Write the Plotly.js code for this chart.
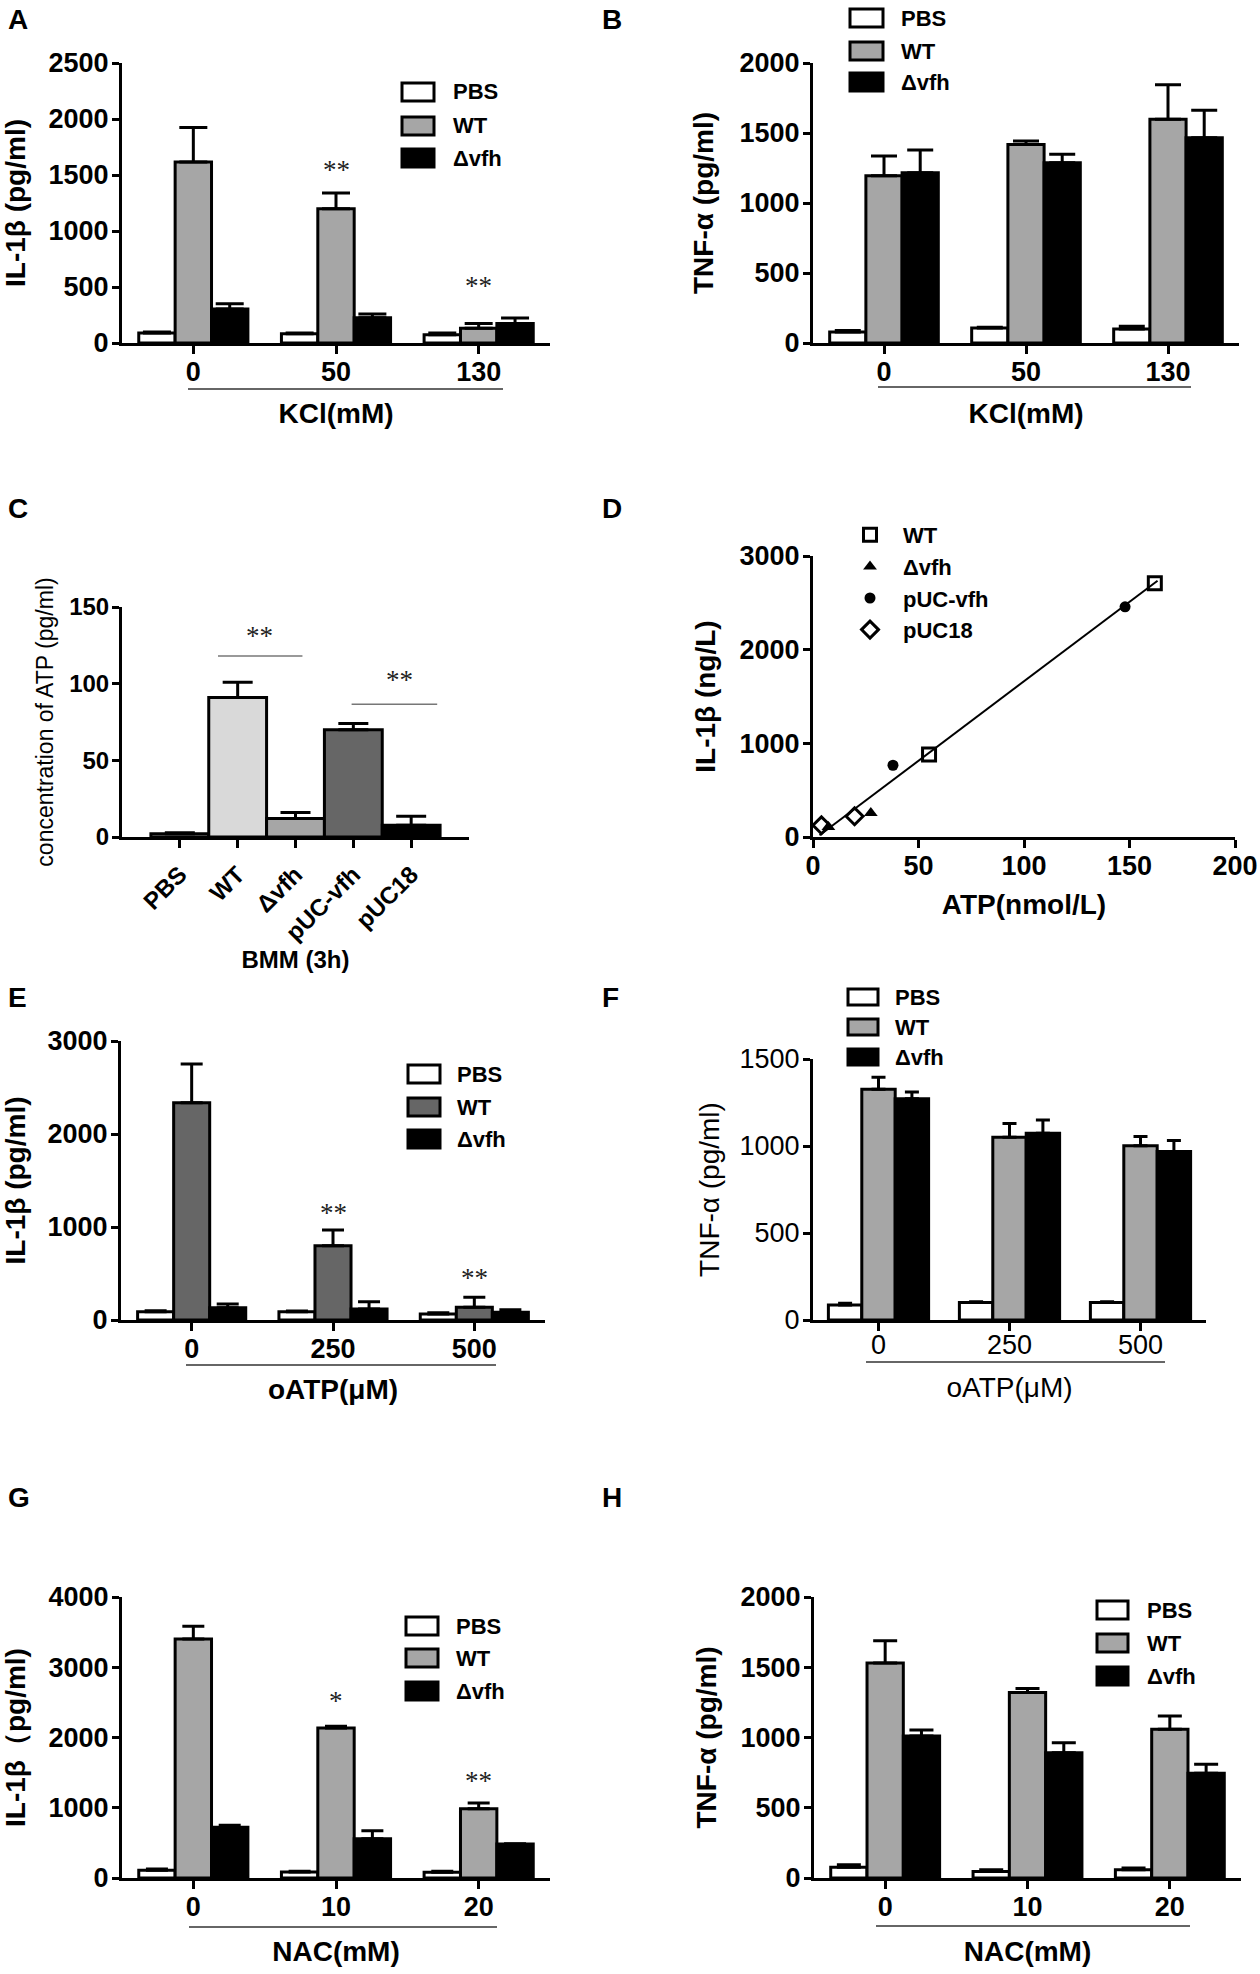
<!DOCTYPE html>
<html>
<head>
<meta charset="utf-8">
<script src="https://cdn.plot.ly/plotly-3.0.1.min.js"></script>
<style>body { margin: 0; background: #fff; }</style>
</head>
<body>
<div id="fig"></div>
<script>
// ---- data ----
const kclDoses = ["0", "50", "130"];
const oatpDoses = ["0", "250", "500"];
const nacDoses = ["0", "10", "20"];
const groupNames = ["PBS", "WT", "Δvfh"];
const strainNames = ["PBS", "WT", "Δvfh", "pUC-vfh", "pUC18"];

// A: IL-1β, KCl
const aPBS = [89, 83, 74], aPBSSem = [9, 6, 15];
const aWT = [1616, 1199, 131], aWTSem = [309, 140, 42];
const aVfh = [304, 226, 173], aVfhSem = [47, 33, 50];
// B: TNF-α, KCl
const bPBS = [78, 107, 100], bPBSSem = [12, 5, 19];
const bWT = [1195, 1418, 1598], bWTSem = [140, 24, 247];
const bVfh = [1216, 1287, 1466], bVfhSem = [162, 62, 196];
// C: ATP concentration per strain
const cATP = [2.2, 91, 12, 70, 7.6], cATPSem = [0.6, 10, 4, 4, 6];
// D: ATP vs IL-1β
const dWTx = [55, 162], dWTy = [880, 2710];
const dVfhx = [7.3, 27.4], dVfhy = [107, 257];
const dPucVfhx = [37.9, 147.9], dPucVfhy = [766, 2458];
const dPuc18x = [4, 19.7], dPuc18y = [125, 221];
const dFitX = [3.1, 163.3], dFitY = [18, 2736];
// E: IL-1β, oATP
const ePBS = [90, 90, 65], ePBSSem = [10, 7, 14];
const eWT = [2337, 799, 136], eWTSem = [416, 169, 108];
const eVfh = [133, 118, 82], eVfhSem = [39, 79, 29];
// F: TNF-α, oATP
const fPBS = [86, 100, 100], fPBSSem = [10, 5, 5];
const fWT = [1326, 1050, 1002], fWTSem = [69, 80, 52];
const fVfh = [1272, 1073, 969], fVfhSem = [38, 76, 62];
// G: IL-1β, NAC
const gPBS = [109, 85, 81], gPBSSem = [19, 10, 14];
const gWT = [3402, 2135, 987], gWTSem = [180, 24, 81];
const gVfh = [721, 560, 484], gVfhSem = [29, 114, 5];
// H: TNF-α, NAC
const hPBS = [76, 47, 59], hPBSSem = [19, 12, 12];
const hWT = [1531, 1321, 1058], hWTSem = [157, 28, 95];
const hVfh = [1011, 892, 746], hVfhSem = [42, 71, 63];

// significance marks: [panel, x, y, text]
const starMarks = [
  ["A", 1, 1547, "**"], ["A", 2, 512, "**"],
  ["C", 1.37, 131, "**"], ["C", 3.79, 102.5, "**"],
  ["E", 1, 1147, "**"], ["E", 2, 448, "**"],
  ["G", 1, 2515, "*"], ["G", 2, 1385, "**"]
];
// significance bars in panel C: [x0, x1, y]
const cSigBars = [[0.66, 2.12, 118], [2.97, 4.45, 86.6]];

// ---- layout helpers ----
const W = 1260, H = 1974;
const FONT = "Liberation Sans, Arial, Helvetica, sans-serif";
const px = x => x / W;
const py = y => 1 - y / H;

const grayBars = ["#ffffff", "#a6a6a6", "#000000"];
const darkBars = ["#ffffff", "#666666", "#000000"];

// panel frames in pixels: left, right, top, bottom
const frames = {
  A: [122, 550, 63, 343], B: [813, 1239, 63, 343],
  C: [122, 469, 607, 837], D: [813, 1235, 556, 837],
  E: [121, 545, 1041, 1320], F: [813, 1206, 1059, 1320],
  G: [122, 550, 1597, 1878], H: [814, 1241, 1597, 1878]
};
const panelOrder = ["A", "B", "C", "D", "E", "F", "G", "H"];
const axisId = p => {
  const k = panelOrder.indexOf(p) + 1;
  return k === 1 ? "" : String(k);
};

const traces = [];
const layout = {
  width: W, height: H,
  margin: {l: 0, r: 0, t: 0, b: 0},
  paper_bgcolor: "#fff", plot_bgcolor: "#fff",
  barmode: "overlay",
  font: {family: FONT, color: "#000"},
  annotations: [], shapes: [],
  legend: {
    x: px(837), xanchor: "left", y: py(514), yanchor: "top",
    font: {family: FONT, size: 22, weight: "bold"}, itemwidth: 56,
    bgcolor: "rgba(0,0,0,0)", tracegroupgap: 0
  }
};

function setAxes(p, opts) {
  const [l, r, t, b] = frames[p];
  const s = axisId(p);
  const weight = opts.bold === false ? "normal" : "bold";
  const common = {
    showline: true, linewidth: 3, linecolor: "#000",
    ticks: "outside", tickwidth: 3, tickcolor: "#000",
    showgrid: false, zeroline: false, fixedrange: true,
    tickfont: {family: FONT, size: opts.tickSize || 27, weight: weight}
  };
  layout["xaxis" + s] = Object.assign({}, common, {
    type: "category",
    domain: [px(l), px(r)], anchor: "y" + s,
    range: opts.xRange, ticklen: 8,
    ticklabelstandoff: opts.xLabelPad !== undefined ? opts.xLabelPad : -5,
    tickangle: opts.tickAngle || 0,
    title: {text: opts.xTitle, standoff: opts.xStandoff || 17,
            font: {family: FONT, size: opts.xTitleSize || 28, weight: weight}}
  }, opts.xExtra || {});
  layout["yaxis" + s] = Object.assign({}, common, {
    domain: [py(b), py(t)], anchor: "x" + s,
    range: [0, opts.yMax], dtick: opts.yStep, ticklen: 7, ticklabelstandoff: -2,
    title: {text: opts.yTitle, standoff: opts.yStandoff || 16,
            font: {family: FONT, size: opts.yTitleSize || 28,
                   weight: opts.yTitleWeight || weight}}
  });
}

function groupBars(p, cats, series, colors, capW) {
  const s = axisId(p);
  series.forEach((se, i) => {
    traces.push({
      type: "bar", x: cats, y: se.y, name: groupNames[i],
      xaxis: "x" + s, yaxis: "y" + s, showlegend: false,
      width: 0.255, offset: -0.3825 + i * 0.255,
      marker: {color: colors[i], line: {color: "#000", width: 3}},
      error_y: {type: "data", symmetric: false, array: se.sem,
                arrayminus: se.sem.map(() => 0),
                color: "#000", thickness: 3, width: capW},
      hoverinfo: "skip"
    });
  });
}

// legend swatches drawn as boxes next to each bar panel
function boxLegend(x0, x1, tx, rows, h, colors, bold) {
  rows.forEach((yc, i) => {
    layout.shapes.push({
      type: "rect", xref: "paper", yref: "paper",
      x0: px(x0), x1: px(x1), y0: py(yc + h / 2), y1: py(yc - h / 2),
      fillcolor: colors[i], line: {color: "#000", width: 3}
    });
    layout.annotations.push({
      xref: "paper", yref: "paper", x: px(tx), y: py(yc),
      xanchor: "left", yanchor: "middle", showarrow: false,
      text: groupNames[i],
      font: {family: FONT, size: 22, weight: bold ? "bold" : "normal"}
    });
  });
}

function underline(x0, x1, y) {
  layout.shapes.push({
    type: "line", xref: "paper", yref: "paper",
    x0: px(x0), x1: px(x1), y0: py(y), y1: py(y),
    line: {color: "#333", width: 1.5}
  });
}

// ---- panels ----
groupBars("A", kclDoses, [{y: aPBS, sem: aPBSSem}, {y: aWT, sem: aWTSem}, {y: aVfh, sem: aVfhSem}], grayBars, 14);
setAxes("A", {xRange: [-0.5, 2.5], yMax: 2500, yStep: 500, xTitle: "KCl(mM)", yTitle: "IL-1β (pg/ml)"});
boxLegend(402, 434, 451, [92, 126, 158], 18, grayBars, true);
underline(188, 503, 389);

groupBars("B", kclDoses, [{y: bPBS, sem: bPBSSem}, {y: bWT, sem: bWTSem}, {y: bVfh, sem: bVfhSem}], grayBars, 13);
setAxes("B", {xRange: [-0.5, 2.5], yMax: 2000, yStep: 500, xTitle: "KCl(mM)", yTitle: "TNF-α (pg/ml)", yStandoff: 18});
boxLegend(850, 883, 899, [18, 51, 82], 18, grayBars, true);
underline(878, 1191, 387);

traces.push({
  type: "bar", x: strainNames, y: cATP, xaxis: "x3", yaxis: "y3",
  showlegend: false, width: 1,
  marker: {color: ["#ffffff", "#d9d9d9", "#a6a6a6", "#666666", "#000000"],
           line: {color: "#000", width: 3}},
  error_y: {type: "data", symmetric: false, array: cATPSem,
            arrayminus: cATPSem.map(() => 0), color: "#000", thickness: 3, width: 15},
  hoverinfo: "skip"
});
setAxes("C", {xRange: [-1, 5], yMax: 150, yStep: 50, tickSize: 24, tickAngle: -45,
              xLabelPad: 3, xTitle: "BMM (3h)", xTitleSize: 24, xStandoff: 4,
              yTitle: "concentration of ATP (pg/ml)", yTitleSize: 23,
              yTitleWeight: "normal", yStandoff: 10});
cSigBars.forEach(([x0, x1, y]) => {
  layout.shapes.push({type: "line", xref: "x3", yref: "y3", x0: x0, x1: x1, y0: y, y1: y,
                      line: {color: "#777", width: 1.5}});
});

const dMarkerLine = {color: "#000", width: 3};
traces.push(
  {type: "scatter", mode: "lines", x: dFitX, y: dFitY, xaxis: "x4", yaxis: "y4",
   line: {color: "#000", width: 2}, showlegend: false, hoverinfo: "skip"},
  {type: "scatter", mode: "markers", name: "WT", x: dWTx, y: dWTy, xaxis: "x4", yaxis: "y4",
   marker: {symbol: "square-open", size: 13, color: "#000", line: dMarkerLine}, cliponaxis: false},
  {type: "scatter", mode: "markers", name: "Δvfh", x: dVfhx, y: dVfhy, xaxis: "x4", yaxis: "y4",
   marker: {symbol: "triangle-up", size: 12, color: "#000"}, cliponaxis: false},
  {type: "scatter", mode: "markers", name: "pUC-vfh", x: dPucVfhx, y: dPucVfhy, xaxis: "x4", yaxis: "y4",
   marker: {symbol: "circle", size: 11, color: "#000"}, cliponaxis: false},
  {type: "scatter", mode: "markers", name: "pUC18", x: dPuc18x, y: dPuc18y, xaxis: "x4", yaxis: "y4",
   marker: {symbol: "diamond-open", size: 13, color: "#000", line: dMarkerLine}, cliponaxis: false}
);
setAxes("D", {xRange: [0, 200], yMax: 3000, yStep: 1000, xTitle: "ATP(nmol/L)",
              yTitle: "IL-1β (ng/L)", xStandoff: 14, xExtra: {type: "linear", dtick: 50, ticklen: 8}});

groupBars("E", oatpDoses, [{y: ePBS, sem: ePBSSem}, {y: eWT, sem: eWTSem}, {y: eVfh, sem: eVfhSem}], darkBars, 11);
setAxes("E", {xRange: [-0.5, 2.5], yMax: 3000, yStep: 1000, xTitle: "oATP(μM)", yTitle: "IL-1β (pg/ml)",
              xStandoff: 16});
boxLegend(408, 440, 455, [1074, 1107, 1139], 18, darkBars, true);
underline(186, 496, 1365);

groupBars("F", oatpDoses, [{y: fPBS, sem: fPBSSem}, {y: fWT, sem: fWTSem}, {y: fVfh, sem: fVfhSem}], grayBars, 7);
setAxes("F", {xRange: [-0.5, 2.5], yMax: 1500, yStep: 500, bold: false, xTitle: "oATP(μM)",
              yTitle: "TNF-α (pg/ml)", yStandoff: 12, xLabelPad: -9, xStandoff: 18});
boxLegend(848, 878, 893, [997, 1027, 1057], 16, grayBars, true);
underline(866, 1165, 1362);

groupBars("G", nacDoses, [{y: gPBS, sem: gPBSSem}, {y: gWT, sem: gWTSem}, {y: gVfh, sem: gVfhSem}], grayBars, 11);
setAxes("G", {xRange: [-0.5, 2.5], yMax: 4000, yStep: 1000, xTitle: "NAC(mM)", yTitle: "IL-1β（pg/ml)",
              xStandoff: 21});
boxLegend(406, 438, 454, [1626, 1658, 1691], 18, grayBars, true);
underline(189, 497, 1927);

groupBars("H", nacDoses, [{y: hPBS, sem: hPBSSem}, {y: hWT, sem: hWTSem}, {y: hVfh, sem: hVfhSem}], grayBars, 12);
setAxes("H", {xRange: [-0.5, 2.5], yMax: 2000, yStep: 500, xTitle: "NAC(mM)", yTitle: "TNF-α (pg/ml)",
              xStandoff: 21});
boxLegend(1097, 1128, 1145, [1610, 1643, 1676], 18, grayBars, true);
underline(876, 1190, 1926);

// asterisks
starMarks.forEach(([p, x, y, t]) => {
  const s = axisId(p);
  layout.annotations.push({
    xref: "x" + s, yref: "y" + s, x: x, y: y, text: t, showarrow: false,
    font: {family: "Liberation Serif, Times New Roman, serif", size: 27, color: "#222"}
  });
});

// panel letters
const letterPos = {A: [6, 19], B: [600, 19], C: [6, 509], D: [600, 509],
                   E: [6, 997], F: [600, 997], G: [6, 1497], H: [600, 1497]};
panelOrder.forEach(p => {
  layout.annotations.push({
    xref: "paper", yref: "paper", x: px(letterPos[p][0]), y: py(letterPos[p][1]),
    xanchor: "left", yanchor: "middle", showarrow: false, text: p,
    font: {family: FONT, size: 28, weight: "bold"}
  });
});

Plotly.newPlot("fig", traces, layout, {staticPlot: true});
</script>
</body>
</html>
